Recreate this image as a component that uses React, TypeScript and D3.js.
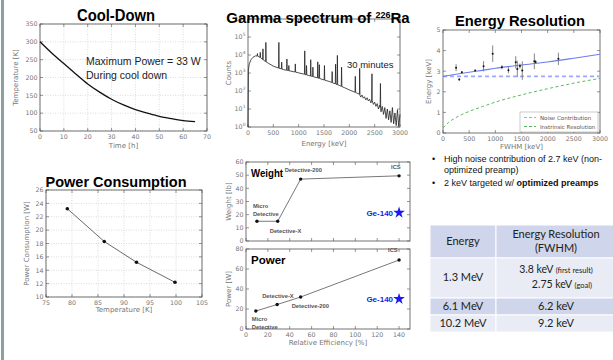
import React from "react";
import * as d3 from "d3";

// ---- Cool-Down
const coolTime = [0, 5, 10, 15, 20, 25, 30, 35, 40, 45, 50, 55, 60, 65];
const coolTemp = [300, 268, 239, 210, 182, 159, 139, 123, 110, 100, 91, 85, 79, 76];
const coolXTicks = [0, 10, 20, 30, 40, 50, 60, 70];
const coolYTicks = [50, 100, 150, 200, 250, 300, 350];

// ---- Gamma spectrum (continuum + peak tops)
const contE = [0, 8, 25, 60, 100, 150, 200, 250, 300, 350, 400, 500, 600, 700, 800, 900, 1000, 1100, 1200, 1300, 1400, 1500, 1600, 1700, 1800, 1900, 2000, 2100, 2200, 2225, 2250, 2275, 2300, 2325, 2350, 2375, 2400, 2425, 2450, 2475, 2500, 2525, 2550, 2575, 2600, 2625, 2650, 2675, 2700, 2725, 2750, 2775, 2800, 2825, 2850, 2875, 2900, 2925, 2950, 2975, 3000];
const contC = [1, 1500, 3200, 5500, 7500, 9000, 8500, 7000, 5400, 4300, 3500, 2400, 1900, 1550, 1350, 1180, 1020, 870, 720, 610, 510, 410, 340, 265, 205, 155, 115, 88, 66, 46, 60, 40, 48, 32, 42, 28, 35, 22, 30, 18, 24, 14, 20, 10, 16, 7, 14, 5, 12, 3, 10, 2.5, 8, 1.8, 12, 1.5, 6, 1.2, 9, 1.1, 5];
const peakE = [186, 242, 295, 352, 609, 665, 768, 806, 934, 1120, 1155, 1238, 1281, 1377, 1408, 1509, 1661, 1729, 1764, 1847, 2118, 2204, 2447, 2614];
const peakC = [12000, 14000, 22000, 50000, 50000, 4000, 6000, 2600, 3200, 17000, 2600, 5500, 2100, 4200, 2900, 2600, 1200, 3100, 9500, 2100, 650, 1800, 900, 260];
const specXTicks = [0, 500, 1000, 1500, 2000, 2500, 3000];
const specYExp = [0, 1, 2, 3, 4, 5, 6];

// ---- Energy resolution
const resE = [250, 310, 360, 615, 775, 950, 1125, 1250, 1390, 1420, 1470, 1515, 1745, 1770, 2205];
const resV = [3.17, 2.6, 2.95, 3.03, 3.24, 3.85, 3.19, 3.05, 3.43, 3.11, 3.25, 3.03, 3.48, 3.45, 3.6];
const resErr = [0.17, 0.06, 0.05, 0.04, 0.25, 0.4, 0.1, 0.15, 0.3, 0.4, 0.12, 0.45, 0.38, 0.1, 0.3];
const curveE = [0, 100, 250, 500, 750, 1000, 1500, 2000, 2500, 3000];
const intrinsicV = [0.25, 0.5, 0.75, 1.05, 1.28, 1.5, 1.85, 2.15, 2.42, 2.65];
const totalV = [2.75, 2.79, 2.85, 2.95, 3.04, 3.14, 3.3, 3.45, 3.63, 3.82];
const noiseV = 2.75;
const resXTicks = [0, 500, 1000, 1500, 2000, 2500, 3000];
const resYTicks = [0, 1, 2, 3, 4, 5];

// ---- Power consumption
const pcTemp = [79.1, 86.2, 92.4, 99.8];
const pcPower = [23.2, 18.3, 15.2, 12.2];
const pcXTicks = [75, 80, 85, 90, 95, 100, 105];
const pcYTicks = [10, 12, 14, 16, 18, 20, 22, 24, 26];

// ---- Weight / Power vs efficiency
const detNames = ["Micro Detective", "Detective-X", "Detective-200", "ICS"];
const detEff = [10, 29, 50, 140];
const detWeight = [15, 15, 47, 49.5];
const detEffP = [9, 28.5, 50, 140];
const detPower = [18, 24.5, 32, 69];
const geEff = 140;
const geWeight = 21.5;
const gePower = 30;
const effTicks = [0, 20, 40, 60, 80, 100, 120, 140];
const weightTicks = [0, 10, 20, 30, 40, 50, 60];
const powerTicks = [0, 20, 40, 60, 80];

// ---- Table
const tableEnergy = ["1.3 MeV", "6.1 MeV", "10.2 MeV"];
const tableRes = ["3.8 keV", "6.2 keV", "9.2 keV"];

const TICK_FONT = "'DejaVu Sans', sans-serif";
const TICK_COLOR = "#757575";
const FRAME = "#505050";
const ARIAL = "'Liberation Sans', Arial, sans-serif";

function Axes(p: {
  xs: any; ys: any; xTicks: number[]; yTicks: number[];
  grid?: boolean; showX?: boolean; yFmt?: (v: number) => React.ReactNode;
  xTitle?: string; yTitle?: string; xTitleY?: number; yTitleX?: number;
}) {
  const [x0, x1] = p.xs.range();
  const [y0, y1] = p.ys.range();
  const fs = 6.3;
  return (
    <g>
      {p.grid && p.xTicks.map((t) => (
        <line key={"gx" + t} x1={p.xs(t)} x2={p.xs(t)} y1={y1} y2={y0} stroke="#c4c4c4" strokeWidth={0.6} strokeDasharray="1,1.5" />
      ))}
      {p.grid && p.yTicks.map((t) => (
        <line key={"gy" + t} x1={x0} x2={x1} y1={p.ys(t)} y2={p.ys(t)} stroke="#c4c4c4" strokeWidth={0.6} strokeDasharray="1,1.5" />
      ))}
      {p.xTicks.map((t) => (
        <g key={"tx" + t}>
          <line x1={p.xs(t)} x2={p.xs(t)} y1={y0} y2={y0 - 3} stroke={FRAME} strokeWidth={0.6} />
          <line x1={p.xs(t)} x2={p.xs(t)} y1={y1} y2={y1 + 3} stroke={FRAME} strokeWidth={0.6} />
        </g>
      ))}
      {p.yTicks.map((t) => (
        <g key={"ty" + t}>
          <line x1={x0} x2={x0 + 3} y1={p.ys(t)} y2={p.ys(t)} stroke={FRAME} strokeWidth={0.6} />
          <line x1={x1} x2={x1 - 3} y1={p.ys(t)} y2={p.ys(t)} stroke={FRAME} strokeWidth={0.6} />
        </g>
      ))}
      <rect x={x0} y={y1} width={x1 - x0} height={y0 - y1} fill="none" stroke={FRAME} strokeWidth={0.8} />
      {p.showX !== false && p.xTicks.map((t) => (
        <text key={"lx" + t} x={p.xs(t)} y={y0 + 8} textAnchor="middle" fontSize={fs} fontFamily={TICK_FONT} fill={TICK_COLOR}>{t}</text>
      ))}
      {p.yTicks.map((t) => (
        <text key={"ly" + t} x={x0 - 2.5} y={p.ys(t) + 2.3} textAnchor="end" fontSize={fs} fontFamily={TICK_FONT} fill={TICK_COLOR}>
          {p.yFmt ? p.yFmt(t) : t}
        </text>
      ))}
      {p.xTitle && (
        <text x={(x0 + x1) / 2} y={p.xTitleY ?? y0 + 17} textAnchor="middle" fontSize={7} fontFamily={TICK_FONT} fill={TICK_COLOR}>{p.xTitle}</text>
      )}
      {p.yTitle && (
        <text transform={`translate(${p.yTitleX ?? x0 - 20},${(y0 + y1) / 2}) rotate(-90)`} textAnchor="middle" fontSize={7} fontFamily={TICK_FONT} fill={TICK_COLOR}>{p.yTitle}</text>
      )}
    </g>
  );
}

function CoolDown() {
  const xs = d3.scaleLinear().domain([0, 70]).range([40, 207]);
  const ys = d3.scaleLinear().domain([50, 350]).range([131, 24]);
  const line = d3.line<number>().x((_, i) => xs(coolTime[i])).y((d) => ys(d)).curve(d3.curveMonotoneX);
  return (
    <g>
      <Axes xs={xs} ys={ys} xTicks={coolXTicks} yTicks={coolYTicks} grid xTitle="Time [h]" yTitle="Temperature [K]" yTitleX={18} xTitleY={148} />
      <path d={line(coolTemp) || ""} fill="none" stroke="#111" strokeWidth={1.3} />
      <text x={116} y={21} textAnchor="middle" fontSize={16} fontWeight="bold" fontFamily={ARIAL} fill="#000" textLength={78} lengthAdjust="spacingAndGlyphs">Cool-Down</text>
      <text x={86} y={65} fontSize={10.5} fontFamily={ARIAL} fill="#222">Maximum Power = 33 W</text>
      <text x={86} y={79} fontSize={10.5} fontFamily={ARIAL} fill="#222">During cool down</text>
    </g>
  );
}

function Spectrum() {
  const xs = d3.scaleLinear().domain([0, 3000]).range([248, 400]);
  const ys = d3.scaleLog().domain([1, 1e6]).range([127, 19]);
  const contAt = (e: number) => {
    const i = d3.bisectRight(contE, e);
    if (i <= 0) return contC[0];
    if (i >= contE.length) return contC[contC.length - 1];
    const t = (e - contE[i - 1]) / (contE[i] - contE[i - 1]);
    return Math.exp(Math.log(contC[i - 1]) * (1 - t) + Math.log(contC[i]) * t);
  };
  const pts: [number, number][] = contE.map((e, i) => [e, contC[i]]);
  peakE.forEach((e, i) => {
    pts.push([e - 6, contAt(e - 6)], [e, peakC[i]], [e + 6, contAt(e + 6)]);
  });
  pts.sort((a, b) => a[0] - b[0]);
  const line = d3.line<[number, number]>().x((d) => xs(d[0])).y((d) => ys(Math.max(1, d[1])));
  return (
    <g>
      <Axes xs={xs} ys={ys} xTicks={specXTicks} yTicks={specYExp.map((k) => Math.pow(10, k))}
        yFmt={(v) => (<>10<tspan fontSize={4.5} dy={-3}>{Math.round(Math.log10(v))}</tspan></>)}
        xTitle="Energy [keV]" yTitle="Counts" yTitleX={231} xTitleY={146} />
      <path d={line(pts) || ""} fill="none" stroke="#222" strokeWidth={0.8} />
      <text x={347} y={68} fontSize={9.5} fontFamily={ARIAL} fill="#222">30 minutes</text>
      <text x={318} y={23} textAnchor="middle" fontSize={15} fontWeight="bold" fontFamily={ARIAL} fill="#000">
        Gamma spectrum of <tspan fontSize={9} dy={-5}>226</tspan><tspan dy={5}>Ra</tspan>
      </text>
    </g>
  );
}

function Resolution() {
  const xs = d3.scaleLinear().domain([0, 3000]).range([443, 600]);
  const ys = d3.scaleLinear().domain([0, 5]).range([133, 30]);
  const line = (vals: number[]) =>
    d3.line<number>().x((_, i) => xs(curveE[i])).y((d) => ys(d)).curve(d3.curveMonotoneX)(vals) || "";
  return (
    <g>
      <Axes xs={xs} ys={ys} xTicks={resXTicks} yTicks={resYTicks} xTitle="FWHM [keV]" yTitle="Energy [keV]" yTitleX={431} xTitleY={149} />
      <line x1={xs(0)} x2={xs(3000)} y1={ys(noiseV)} y2={ys(noiseV)} stroke="#9aa8ff" strokeWidth={1.6} strokeDasharray="4,3" />
      <path d={line(intrinsicV)} fill="none" stroke="#5cb85c" strokeWidth={1} strokeDasharray="3,2.5" />
      <path d={line(totalV)} fill="none" stroke="#6b7cf5" strokeWidth={1.1} />
      {resE.map((e, i) => (
        <g key={i}>
          <line x1={xs(e)} x2={xs(e)} y1={ys(resV[i] - resErr[i])} y2={ys(resV[i] + resErr[i])} stroke="#777" strokeWidth={0.9} />
          <circle cx={xs(e)} cy={ys(resV[i])} r={1} fill="#111" />
        </g>
      ))}
      <rect x={520} y={112} width={78} height={20} fill="#fff" stroke="#999" strokeWidth={0.5} />
      <line x1={524} x2={536} y1={117.5} y2={117.5} stroke="#9aa8ff" strokeWidth={1.2} strokeDasharray="3,2" />
      <text x={540} y={119.5} fontSize={5.5} fontFamily={TICK_FONT} fill="#555">Noise Contribution</text>
      <line x1={524} x2={536} y1={126.5} y2={126.5} stroke="#5cb85c" strokeWidth={1} strokeDasharray="3,2" />
      <text x={540} y={128.5} fontSize={5.5} fontFamily={TICK_FONT} fill="#555">Instrinsic Resolution</text>
      <text x={520} y={26} textAnchor="middle" fontSize={15} fontWeight="bold" fontFamily={ARIAL} fill="#000" textLength={130} lengthAdjust="spacingAndGlyphs">Energy Resolution</text>
    </g>
  );
}

function PowerConsumption() {
  const xs = d3.scaleLinear().domain([75, 105]).range([46, 202]);
  const ys = d3.scaleLinear().domain([10, 26]).range([297, 190]);
  const line = d3.line<number>().x((_, i) => xs(pcTemp[i])).y((d) => ys(d));
  return (
    <g>
      <Axes xs={xs} ys={ys} xTicks={pcXTicks} yTicks={pcYTicks} grid xTitle="Temperature [K]" yTitle="Power Consumption [W]" yTitleX={29} xTitleY={312} />
      <path d={line(pcPower) || ""} fill="none" stroke="#444" strokeWidth={0.8} />
      {pcPower.map((v, i) => <circle key={i} cx={xs(pcTemp[i])} cy={ys(v)} r={1.8} fill="#111" />)}
      <text x={116} y={187} textAnchor="middle" fontSize={15} fontWeight="bold" fontFamily={ARIAL} fill="#000" textLength={141} lengthAdjust="spacingAndGlyphs">Power Consumption</text>
    </g>
  );
}

const labelStyle = { fontSize: 5.8, fontWeight: "bold" as const, fontFamily: ARIAL, fill: "#555" };

function Detectors() {
  const xs = d3.scaleLinear().domain([0, 150]).range([246, 410]);
  const yw = d3.scaleLinear().domain([0, 60]).range([241, 162]);
  const yp = d3.scaleLinear().domain([0, 80]).range([329, 249]);
  const lw = d3.line<number>().x((_, i) => xs(detEff[i])).y((d) => yw(d));
  const lp = d3.line<number>().x((_, i) => xs(detEffP[i])).y((d) => yp(d));
  const star = d3.symbol(d3.symbolStar, 42)() || "";
  // label offsets (px) for each detector name, weight then power
  const wOff = [[-4, -13], [-8, 12], [-16, -7], [-8, -7]];
  const pOff = [[-4, 10], [-15, -7], [-9, 11], [-11, -8]];
  const nameLines = (n: string) => (n === "Micro Detective" ? ["Micro", "Detective"] : [n]);
  return (
    <g>
      <Axes xs={xs} ys={yw} xTicks={effTicks} yTicks={weightTicks} showX={false} yTitle="Weight [lb]" yTitleX={231} />
      <Axes xs={xs} ys={yp} xTicks={effTicks} yTicks={powerTicks} yTitle="Power [W]" yTitleX={231} xTitle="Relative Efficiency [%]" xTitleY={345} />
      <path d={lw(detWeight) || ""} fill="none" stroke="#555" strokeWidth={0.8} />
      <path d={lp(detPower) || ""} fill="none" stroke="#555" strokeWidth={0.8} />
      {detNames.map((n, i) => (
        <g key={n}>
          <circle cx={xs(detEff[i])} cy={yw(detWeight[i])} r={1.7} fill="#111" />
          <circle cx={xs(detEffP[i])} cy={yp(detPower[i])} r={1.7} fill="#111" />
          {nameLines(n).map((s, j) => (
            <text key={"w" + j} x={xs(detEff[i]) + wOff[i][0]} y={yw(detWeight[i]) + wOff[i][1] + j * 8} {...labelStyle}>{s}</text>
          ))}
          {nameLines(n).map((s, j) => (
            <text key={"p" + j} x={xs(detEffP[i]) + pOff[i][0]} y={yp(detPower[i]) + pOff[i][1] + j * 8} {...labelStyle}>{s}</text>
          ))}
        </g>
      ))}
      <path d={star} transform={`translate(${xs(geEff)},${yw(geWeight)})`} fill="#1a1aee" />
      <path d={star} transform={`translate(${xs(geEff)},${yp(gePower)})`} fill="#1a1aee" />
      <text x={xs(geEff) - 6} y={yw(geWeight) + 3} textAnchor="end" fontSize={8} fontWeight="bold" fontFamily={ARIAL} fill="#1a1aee">Ge-140</text>
      <text x={xs(geEff) - 6} y={yp(gePower) + 3} textAnchor="end" fontSize={8} fontWeight="bold" fontFamily={ARIAL} fill="#1a1aee">Ge-140</text>
      <text x={251} y={177} fontSize={11.5} fontWeight="bold" fontFamily={ARIAL} fill="#000" textLength={32} lengthAdjust="spacingAndGlyphs">Weight</text>
      <text x={251} y={264} fontSize={11.5} fontWeight="bold" fontFamily={ARIAL} fill="#000">Power</text>
    </g>
  );
}

function Notes() {
  const f = { fontFamily: ARIAL, fontSize: 9, fill: "#111" };
  return (
    <g>
      <text x={432} y={162} {...f}>•</text>
      <text x={444} y={162} {...f}>High noise contribution of 2.7 keV (non-</text>
      <text x={444} y={172.5} {...f}>optimized preamp)</text>
      <text x={432} y={186} {...f}>•</text>
      <text x={444} y={186} {...f}>2 keV targeted w/ <tspan fontWeight="bold">optimized preamps</tspan></text>
    </g>
  );
}

function Table() {
  const cx0 = 430, cx1 = 496, cx2 = 622;
  const rows = [225, 258, 298, 315, 332];
  const fills = ["#cfd5ea", "#e9ebf5", "#cfd5ea", "#e9ebf5"];
  const f = { fontFamily: "Lato, 'Open Sans', sans-serif", fill: "#222", textAnchor: "middle" as const };
  const c1 = (cx0 + cx1) / 2, c2 = (cx1 + cx2) / 2 - 3;
  return (
    <g>
      {fills.map((c, i) => (
        <g key={i}>
          <rect x={cx0} y={rows[i]} width={cx1 - cx0} height={rows[i + 1] - rows[i]} fill={c} stroke="#fff" strokeWidth={1} />
          <rect x={cx1} y={rows[i]} width={cx2 - cx1} height={rows[i + 1] - rows[i]} fill={c} stroke="#fff" strokeWidth={1} />
        </g>
      ))}
      <text x={c1} y={245} fontSize={11} {...f}>Energy</text>
      <text x={c2} y={238} fontSize={11} {...f}>Energy Resolution</text>
      <text x={c2} y={252} fontSize={11} {...f}>(FWHM)</text>
      <text x={c1} y={281} fontSize={11} {...f}>{tableEnergy[0]}</text>
      <text x={c2} y={273} fontSize={10.5} {...f}>{tableRes[0]} <tspan fontSize={7.5}>(first result)</tspan></text>
      <text x={c2 + 6} y={288} fontSize={10.5} {...f}>2.75 keV <tspan fontSize={7.5}>(goal)</tspan></text>
      <text x={c1} y={310} fontSize={11} {...f}>{tableEnergy[1]}</text>
      <text x={c2} y={310} fontSize={11} {...f}>{tableRes[1]}</text>
      <text x={c1} y={327} fontSize={11} {...f}>{tableEnergy[2]}</text>
      <text x={c2} y={327} fontSize={11} {...f}>{tableRes[2]}</text>
    </g>
  );
}

export default function App() {
  return (
    <svg width={613} height={360} style={{ position: "absolute", left: 0, top: 0, background: "#fff" }}>
      <rect x={0} y={0} width={613} height={360} fill="#fff" />
      <rect x={1} y={0} width={3} height={360} fill="#8e9fa2" />
      <CoolDown />
      <Spectrum />
      <Resolution />
      <PowerConsumption />
      <Detectors />
      <Notes />
      <Table />
    </svg>
  );
}
